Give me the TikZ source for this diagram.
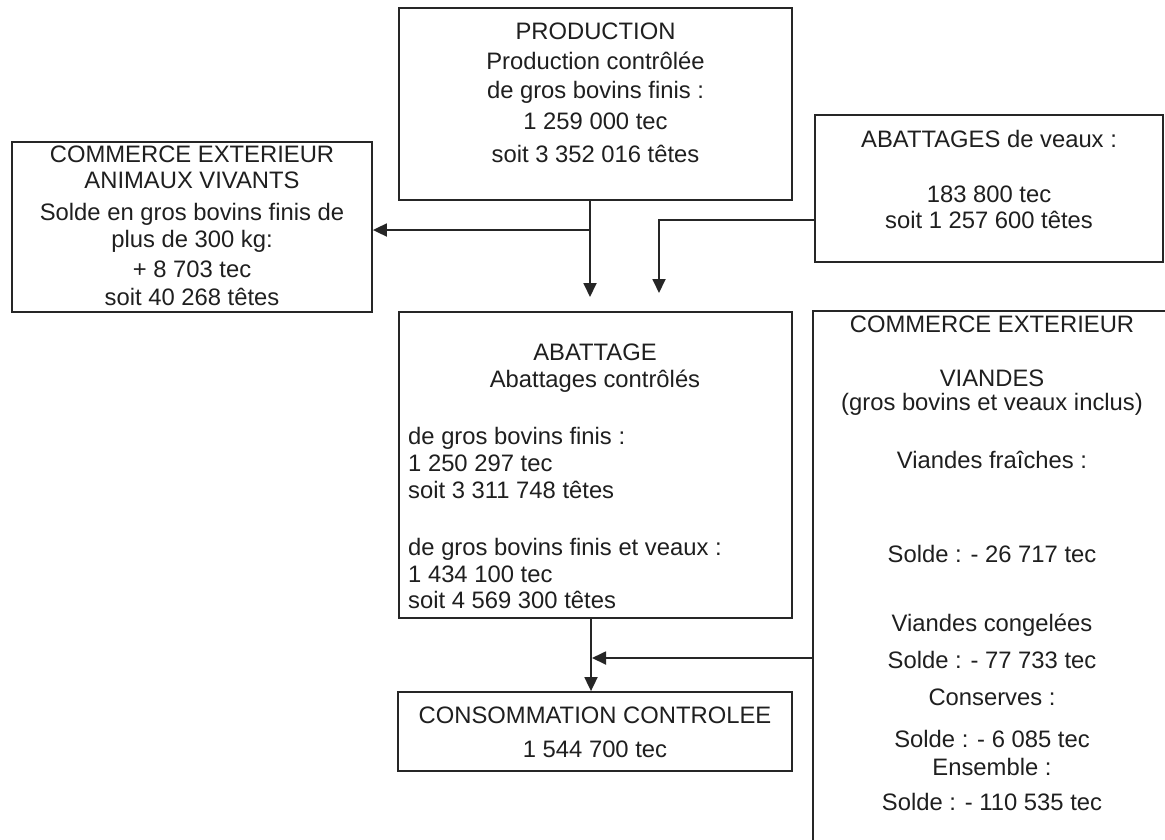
\documentclass[tikz,border=0pt]{standalone}
\usepackage{fontspec}
\setmainfont{Liberation Sans}
\usetikzlibrary{arrows.meta}
\begin{document}
\begin{tikzpicture}[x=1pt,y=-1pt,
  box/.style={draw=black!85, line width=1.8pt, rectangle, inner sep=0pt},
  txt/.style={anchor=base, inner sep=0pt, text=black!88, font=\fontsize{23.8}{28}\selectfont},
  txtl/.style={txt, anchor=base west},
  ln/.style={draw=black!85, line width=1.8pt},
  arr/.style={ln, -{Triangle[length=14pt,width=13pt]}}]
\clip (0,0) rectangle (1165,839);
\fill[white] (0,0) rectangle (1165,839);
% boxes
\node[box, minimum width=393pt, minimum height=192pt] (prod) at (595.5,104) {};
\node[box, minimum width=360pt, minimum height=170pt] (left) at (192,227) {};
\node[box, minimum width=348pt, minimum height=147pt] (veaux) at (989,188.5) {};
\node[box, minimum width=393pt, minimum height=306pt] (abat) at (595.5,465) {};
\node[box, minimum width=394pt, minimum height=79pt] (conso) at (595,731.5) {};
\node[box, minimum width=367pt, minimum height=549pt] (viandes) at (996.5,585.5) {};
% texts
\foreach \y/\t [count=\i] in {39/PRODUCTION, 69/Production contrôlée, 98/de gros bovins finis :, 129/1 259 000 tec, 162/soit 3 352 016 têtes}
  \node[txt] (p\i) at (595.5,\y) {\t};
\foreach \y/\t [count=\i] in {162/COMMERCE EXTERIEUR, 188/ANIMAUX VIVANTS, 220/Solde en gros bovins finis de, 247/plus de 300 kg:, 277/+ 8 703 tec, 305/soit 40 268 têtes}
  \node[txt] (l\i) at (192,\y) {\t};
\foreach \y/\t [count=\i] in {147/ABATTAGES de veaux :, 202/183 800 tec, 228/soit 1 257 600 têtes}
  \node[txt] (w\i) at (989,\y) {\t};
\foreach \y/\t [count=\i] in {360/ABATTAGE, 387/Abattages contrôlés}
  \node[txt] (h\i) at (595,\y) {\t};
\foreach \y/\t [count=\i] in {444/de gros bovins finis :, 471/1 250 297 tec, 498/soit 3 311 748 têtes, 555/de gros bovins finis et veaux :, 582/1 434 100 tec, 608/soit 4 569 300 têtes}
  \node[txtl] (b\i) at (408,\y) {\t};
\foreach \y/\t [count=\i] in {723/CONSOMMATION CONTROLEE, 757/1 544 700 tec}
  \node[txt] (c\i) at (595,\y) {\t};
\foreach \y/\t [count=\i] in {332/COMMERCE EXTERIEUR, 386/VIANDES, 410/(gros bovins et veaux inclus), 468/Viandes fraîches :, 562/Solde : - 26 717 tec, 631/Viandes congelées, 668/Solde : - 77 733 tec, 705/Conserves :, 747/Solde : - 6 085 tec, 775/Ensemble :, 810/Solde : - 110 535 tec}
  \node[txt] (v\i) at (992,\y) {\t};
% connectors
\coordinate (j1) at (590,230);
\coordinate (a1) at (590,297);
\draw[arr] (prod.south -| j1) -- (a1);
\draw[arr] (j1) -- (j1 -| left.east);
\coordinate (j2) at (659,220);
\coordinate (a2) at (659,293);
\draw[arr] (j2 -| veaux.west) -- (j2) -- (a2);
\coordinate (j3) at (591,658);
\coordinate (t3) at (592,658);
\draw[arr] (abat.south -| j3) -- (j3 |- conso.north);
\draw[arr] (t3 -| viandes.west) -- (t3);
\end{tikzpicture}
\end{document}
